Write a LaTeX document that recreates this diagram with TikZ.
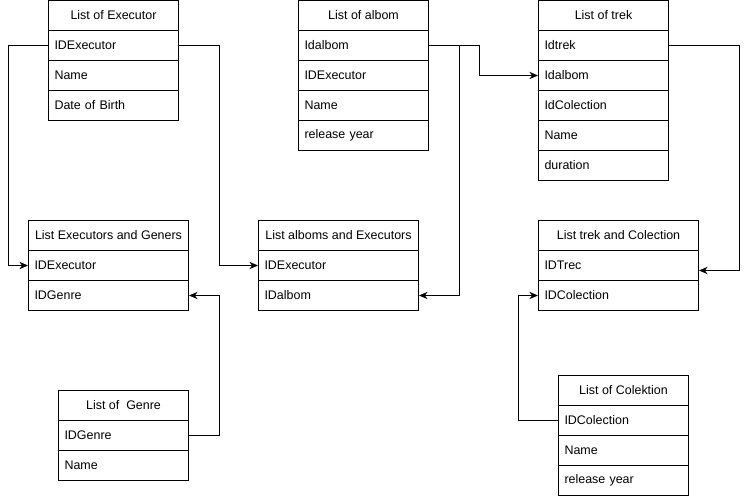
\documentclass[tikz,border=0pt]{standalone}
\usepackage{fontspec}
\setmainfont{Liberation Sans}
\usetikzlibrary{arrows.meta,calc}
\begin{document}
\begin{tikzpicture}[x=0.75pt,y=-0.75pt,
  font=\fontsize{9.35}{11}\selectfont,
  cell/.style={draw, line width=0.75pt, anchor=north west, minimum height=22.5pt,
    inner ysep=0pt, inner xsep=4.5pt},
  hdrA/.style={cell, minimum width=97.5pt},
  hdrB/.style={cell, minimum width=120pt},
  fldA/.style={cell, text width=88.5pt, align=left},
  fldB/.style={cell, text width=111pt, align=left},
  conn/.style={draw, line width=0.75pt, -{Stealth[length=6.5pt,width=5.5pt]}},
  link/.style={draw, line width=0.75pt}]
\useasboundingbox (0,0) rectangle (746,496);

% List of Executor
\node[hdrA] (ex)  at (48,0)  {List of Executor};
\node[fldA] (ex1) at (48,30) {IDExecutor};
\node[fldA] (ex2) at (48,60) {Name};
\node[fldA] (ex3) at (48,90) {Date of Birth};

% List of albom
\node[hdrA] (al)  at (298,0)   {List of albom};
\node[fldA] (al1) at (298,30)  {Idalbom};
\node[fldA] (al2) at (298,60)  {IDExecutor};
\node[fldA] (al3) at (298,90)  {Name};
\node[fldA] (al4) at (298,120) {release year};

% List of trek
\node[hdrA] (tr)  at (538,0)   {List of trek};
\node[fldA] (tr1) at (538,30)  {Idtrek};
\node[fldA] (tr2) at (538,60)  {Idalbom};
\node[fldA] (tr3) at (538,90)  {IdColection};
\node[fldA] (tr4) at (538,120) {Name};
\node[fldA] (tr5) at (538,150) {duration};

% List Executors and Geners
\node[hdrB] (eg)  at (28,220) {List Executors and Geners};
\node[fldB] (eg1) at (28,250) {IDExecutor};
\node[fldB] (eg2) at (28,280) {IDGenre};

% List alboms and Executors
\node[hdrB] (ae)  at (258,220) {List alboms and Executors};
\node[fldB] (ae1) at (258,250) {IDExecutor};
\node[fldB] (ae2) at (258,280) {IDalbom};

% List trek and Colection
\node[hdrB] (tc)  at (538,220) {List trek and Colection};
\node[fldB] (tc1) at (538,250) {IDTrec};
\node[fldB] (tc2) at (538,280) {IDColection};

% List of Genre
\node[hdrA] (gn)  at (58,390) {List of\ \ Genre};
\node[fldA] (gn1) at (58,420) {IDGenre};
\node[fldA] (gn2) at (58,450) {Name};

% List of Colektion
\node[hdrA] (co)  at (558,375) {List of Colektion};
\node[fldA] (co1) at (558,405) {IDColection};
\node[fldA] (co2) at (558,435) {Name};
\node[fldA] (co3) at (558,465) {release year};

% references between the tables
\draw[conn] (ex1.west) -- ++(-40,0) |- (eg1.west);
\draw[conn] (ex1.east) -- ++(40,0) |- (ae1.west);
\draw[conn] (al1.east) -- ++(50,0) |- (tr2.west);
\draw[conn] (al1.east) -- ++(30,0) |- (ae2.east);
\draw[conn] (tr1.east) -- ++(70,0) |- ($(tc1.east)+(0,5)$);
\draw[conn] (gn1.east) -- ++(30,0) |- (eg2.east);
\draw[conn] (co1.west) -- ++(-40,0) |- (tc2.west);
\end{tikzpicture}
\end{document}
